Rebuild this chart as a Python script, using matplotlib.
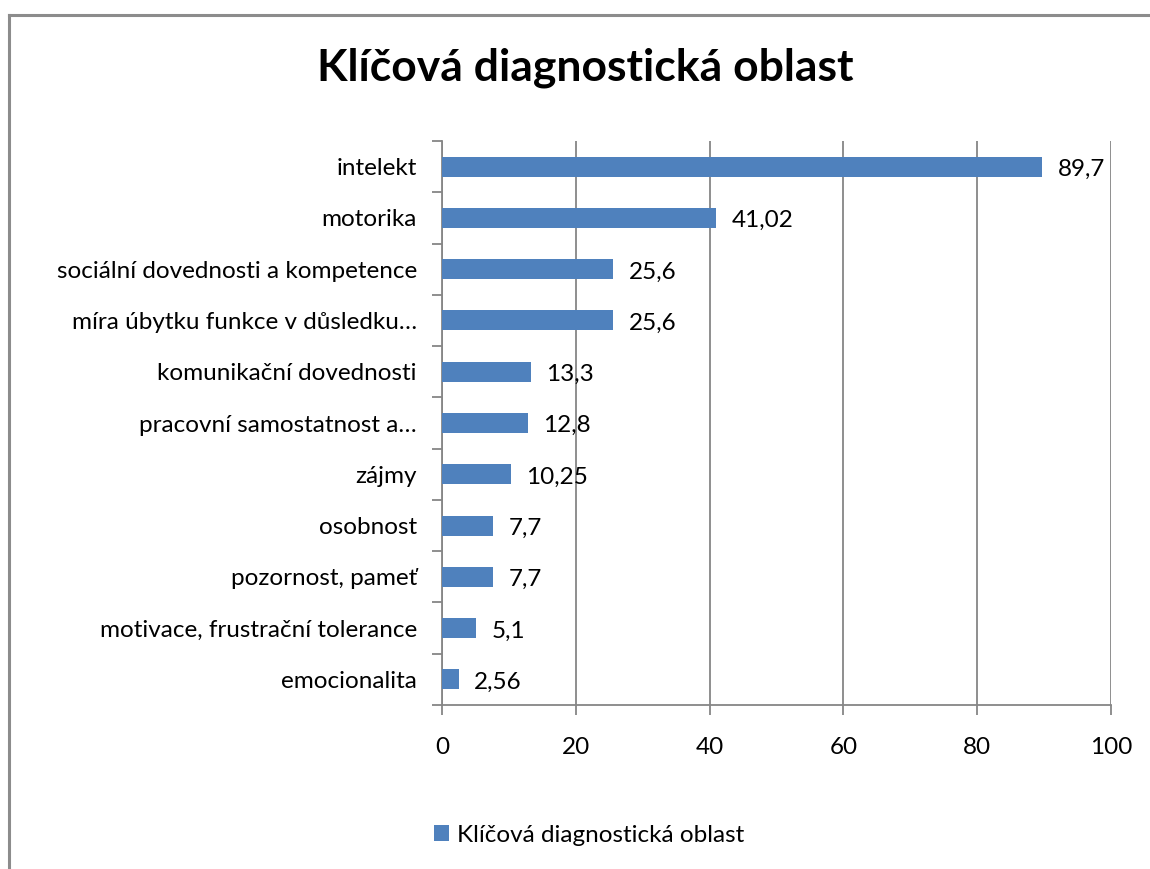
import matplotlib

matplotlib.use("Agg")
import matplotlib.pyplot as plt
from matplotlib.lines import Line2D
from matplotlib.ticker import FixedLocator

categories = [
    "intelekt",
    "motorika",
    "sociální dovednosti a kompetence",
    "míra úbytku funkce v důsledku…",
    "komunikační dovednosti",
    "pracovní samostatnost a…",
    "zájmy",
    "osobnost",
    "pozornost, pameť",
    "motivace, frustrační tolerance",
    "emocionalita",
]
values = [89.7, 41.02, 25.6, 25.6, 13.3, 12.8, 10.25, 7.7, 7.7, 5.1, 2.56]
value_labels = ["89,7", "41,02", "25,6", "25,6", "13,3", "12,8", "10,25", "7,7", "7,7", "5,1", "2,56"]
x_ticks = [0, 20, 40, 60, 80, 100]

BAR = "#4F81BD"
GRID = "#868686"
INK = "#000000"
FS = 17.5

plt.rcParams.update({
    "font.family": ["Lato", "DejaVu Sans"],
    "font.size": FS,
    "text.color": INK,
})

fig = plt.figure(figsize=(11.5, 8.69), dpi=100)
ax = fig.add_axes([0.3843, 0.1887, 0.5818, 0.649])

ys = list(range(len(categories)))[::-1]
ax.barh(ys, values, height=0.39, color=BAR, zorder=3, label="Klíčová diagnostická oblast")
for y, v, lab in zip(ys, values, value_labels):
    ax.annotate(lab, (v, y), xytext=(11, -2), textcoords="offset points",
                ha="left", va="center", fontsize=FS)

ax.set_xlim(0, 100)
ax.set_ylim(-0.5, len(categories) - 0.5)
ax.set_xticks(x_ticks)
ax.set_xticklabels([str(t) for t in x_ticks])
ax.set_yticks(ys)
ax.set_yticklabels(categories)
ax.yaxis.set_minor_locator(FixedLocator([i - 0.5 for i in range(len(categories) + 1)]))
ax.tick_params(axis="y", which="major", length=0, pad=18)
ax.tick_params(axis="y", which="minor", length=7, width=1.3, color=GRID)
ax.tick_params(axis="x", length=7, width=1.3, color=GRID, pad=16)

ax.grid(axis="x", color=GRID, lw=1.3, zorder=0)
for side in ("top", "right"):
    ax.spines[side].set_visible(False)
for side in ("left", "bottom"):
    ax.spines[side].set_color(GRID)
    ax.spines[side].set_linewidth(1.3)

fig.text(0.509, 0.922, "Klíčová diagnostická oblast", ha="center", va="center",
         fontsize=32, fontweight="bold")

fig.legend(loc="center", bbox_to_anchor=(0.512, 0.039), frameon=False,
           handlelength=0.65, handleheight=0.65, handletextpad=0.3, fontsize=FS)

# chart frame: only top and left edges are visible in the crop
fig.add_artist(Line2D([9 / 1150, 9 / 1150], [0, 1 - 15 / 869], transform=fig.transFigure,
                      color="#8c8c8c", lw=2.2))
fig.add_artist(Line2D([9 / 1150, 1], [1 - 15 / 869, 1 - 15 / 869], transform=fig.transFigure,
                      color="#8c8c8c", lw=2.2))

fig.savefig("out.png", dpi=100)
